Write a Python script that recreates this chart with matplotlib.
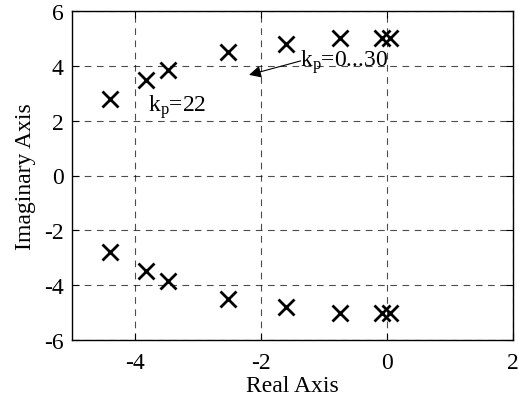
import matplotlib
matplotlib.use("Agg")
import matplotlib.pyplot as plt
import numpy as np

plt.rcParams['font.family'] = ['Liberation Serif', 'DejaVu Serif']
plt.rcParams['mathtext.fontset'] = 'custom'
plt.rcParams['mathtext.rm'] = 'Liberation Serif'
plt.rcParams['mathtext.it'] = 'Liberation Serif'

real_parts = [-4.4, -3.82, -3.47, -2.52, -1.6, -0.75, -0.08, 0.05]
imag_parts = [2.8, 3.5, 3.85, 4.5, 4.8, 5.02, 5.02, 5.02]
xticks = [-4, -2, 0, 2]
yticks = [-6, -4, -2, 0, 2, 4, 6]

fig = plt.figure(figsize=(5.18, 4.02), dpi=100)
ax = fig.add_axes([72/518, 1-341/402, (513-72)/518, (341-12)/402])

re = np.array(real_parts)
im = np.array(imag_parts)
ax.plot(np.concatenate([re, re]), np.concatenate([im, -im]), 'x', color='black',
        markersize=12, markeredgewidth=2, linestyle='none')

ax.set_xlim(-5, 2)
ax.set_ylim(-6, 6)
ax.set_xticks(xticks)
ax.set_yticks(yticks)
ax.set_xticklabels([str(v) for v in xticks])
ax.set_yticklabels([str(v) for v in yticks])
ax.grid(True, linestyle=(0, (6, 5)), color='black', linewidth=0.8, alpha=0.7)
ax.tick_params(direction='in', top=True, right=True, labelsize=17, length=5)
ax.tick_params(axis='x', pad=9)
ax.tick_params(axis='y', pad=6)
for s in ax.spines.values():
    s.set_linewidth(1.0)

ax.set_xlabel('Real Axis', fontsize=17, labelpad=1)
ax.set_ylabel('Imaginary Axis', fontsize=17, labelpad=6)

ax.annotate('', xy=(-2.19, 3.67), xytext=(-1.37, 4.18),
            arrowprops=dict(arrowstyle='-|>', color='black', lw=0.8,
                            mutation_scale=18, shrinkA=0, shrinkB=0))
ax.text(-1.38, 4.0, r'k$_\mathrm{p}$=0...30', fontsize=17, ha='left', va='baseline')
ax.text(-3.8, 2.35, r'k$_\mathrm{p}$=22', fontsize=17, ha='left', va='baseline')

fig.savefig('out.png', dpi=100)
